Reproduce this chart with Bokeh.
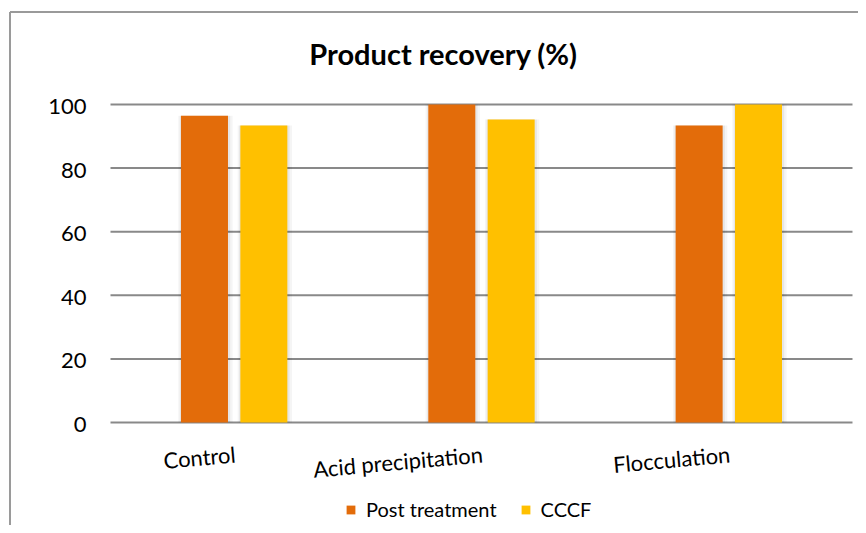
import numpy as np
from bokeh.plotting import figure
from bokeh.models import Range1d, Legend, LegendItem
from bokeh.core.properties import value
from bokeh.embed import file_html
from bokeh.resources import INLINE

# ---- data ----
categories = ["Control", "Acid precipitation", "Flocculation"]
post_treatment = [96.5, 100.0, 93.4]
cccf = [93.4, 95.3, 100.0]
y_ticks = [0, 20, 40, 60, 80, 100]
series_names = ["Post treatment", "CCCF"]
chart_title = "Product recovery (%)"

# ---- layout / style ----
W, H = 858, 525
PLOT_LEFT = 110          # px of the category axis start
CAT_PX = 247.33          # px width of one category
ZERO_PY = 422            # px of value 0
PX_PER_UNIT = 3.18       # px per value unit
FONT = value("Lato")
ORANGE = "#E36C0A"
YELLOW = "#FFC000"
GRID = "#898989"
BORDER = "#9a9a9a"


def X(px):
    return (px - PLOT_LEFT) / CAT_PX


def Y(py):
    return (ZERO_PY - py) / PX_PER_UNIT


p = figure(width=W, height=H, output_backend="svg", toolbar_location=None,
           x_range=Range1d(X(0), X(W)), y_range=Range1d(Y(H), Y(0)),
           x_axis_location=None, y_axis_location=None,
           min_border=0, min_border_left=0, min_border_right=0,
           min_border_top=0, min_border_bottom=0)
p.outline_line_color = None
p.grid.visible = False
p.background_fill_color = "#ffffff"
p.border_fill_color = "#ffffff"

n = len(categories)
centers = np.arange(n) + 0.5
ticks = np.array(y_ticks, dtype=float)

# chart border (top and left edges visible)
p.segment(x0=[X(9.5), X(9.5)], y0=[Y(11.5), Y(11.5)], x1=[X(9.5), X(W + 20)], y1=[Y(H + 20), Y(11.5)],
          line_color=BORDER, line_width=2)

# gridlines (value axis) incl. baseline
p.segment(x0=[0] * len(ticks), x1=[n] * len(ticks), y0=ticks, y1=ticks,
          line_color=GRID, line_width=2)

# y tick labels
p.text(x=[X(86)] * len(ticks), y=ticks, text=[str(t) for t in y_ticks],
       text_align="right", text_baseline="middle", y_offset=2,
       text_font=FONT, text_font_size="22px", text_color="#000000")

# soft bar shadows
for off, vals in ((-0.12, post_treatment), (0.12, cccf)):
    p.vbar(x=centers + off + 0.004, top=vals, bottom=0, width=0.19 + 0.03,
           fill_color="#000000", fill_alpha=0.04, line_color=None)
    p.vbar(x=centers + off + 0.002, top=vals, bottom=0, width=0.19 + 0.014,
           fill_color="#000000", fill_alpha=0.06, line_color=None)

r1 = p.vbar(x=centers - 0.12, top=post_treatment, bottom=0, width=0.19,
            fill_color=ORANGE, line_color=None)
r2 = p.vbar(x=centers + 0.12, top=cccf, bottom=0, width=0.19,
            fill_color=YELLOW, line_color=None)

# category labels (rotated, right end at category centre)
p.text(x=centers, y=[Y(440)] * n, text=categories, angle=0.09,
       text_align="right", text_baseline="top",
       text_font=FONT, text_font_size="22px", text_color="#000000")

# title
p.text(x=[X(443)], y=[Y(53)], text=[chart_title], text_align="center", text_baseline="middle",
       text_font=FONT, text_font_style="bold", text_font_size="29px", text_color="#000000")

legend = Legend(items=[LegendItem(label=series_names[0], renderers=[r1]),
                       LegendItem(label=series_names[1], renderers=[r2])],
                location=(345, 4), orientation="horizontal",
                border_line_color=None, background_fill_alpha=0,
                padding=0, margin=0, spacing=23, label_standoff=10,
                glyph_width=11, glyph_height=11, label_height=20,
                label_text_font="Lato", label_text_font_size="20px",
                label_text_color="#000000", label_text_baseline="middle")
p.add_layout(legend, "center")

open("out.html", "w").write(file_html(p, INLINE))
